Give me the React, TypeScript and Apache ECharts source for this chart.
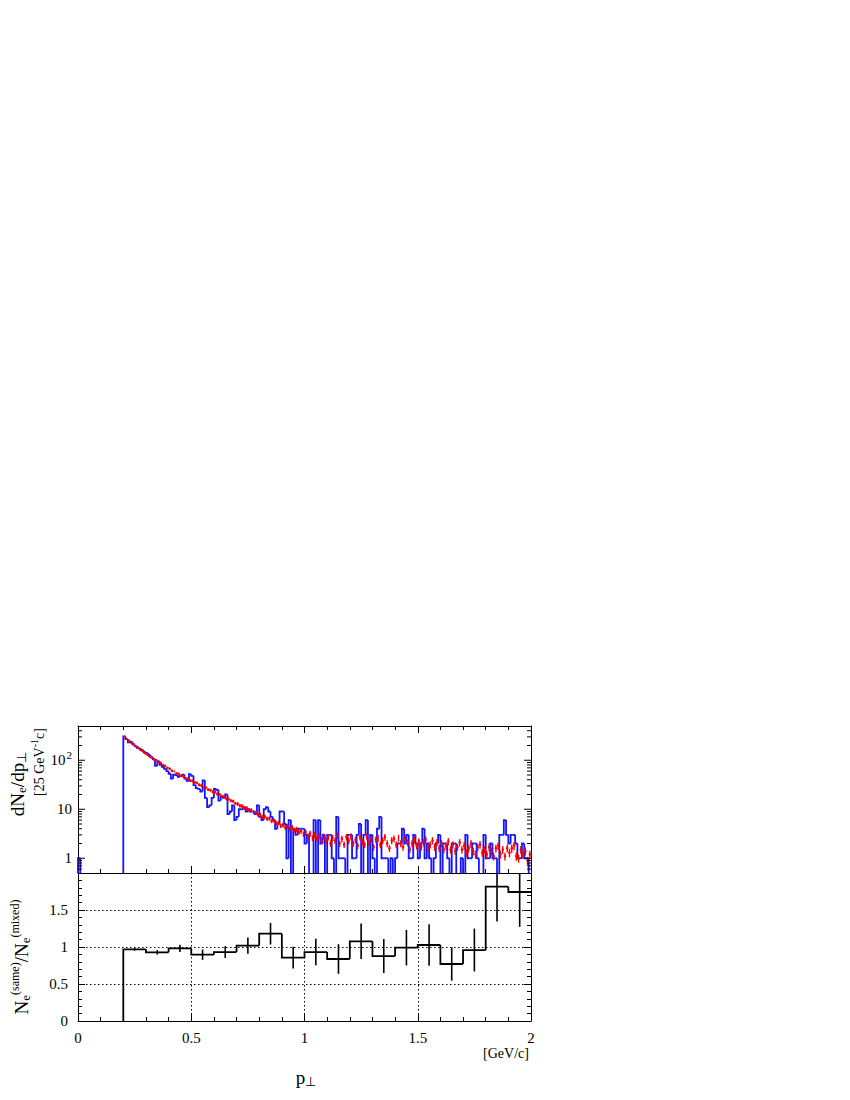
import React, { useEffect, useRef } from "react";
import * as echarts from "echarts";

const FONT = "'Liberation Serif', 'Times New Roman', serif";

// ---------- data ----------
const BIN_W = 0.01;
const BLUE_START = 0.0;
// same-event counts per 0.01 GeV/c bin, from p = 0.00
const blueLead = [1, 0, 0, 0, 0, 0, 0, 0, 0, 0, 0, 0, 0, 0, 0, 0, 0, 0, 0, 0];
const blueMain = [
  305, 270, 232, 240, 210, 195, 180, 172, 160, 147,
  140, 128, 115, 105, 77, 96, 81, 73, 67, 60,
  53, 42, 51, 50, 46, 48, 51, 42, 38, 52,
  48, 31, 27, 26, 23, 39, 17, 11, 12, 17,
  26, 25, 15, 18, 17, 20, 8, 9, 12, 6,
  7, 10, 10, 11, 9, 10, 9, 9, 8, 12,
  7, 6, 10, 11, 9, 7, 6, 4, 5, 9,
  9, 5, 1, 6, 0, 4, 3, 4, 4, 4,
  2, 3, 0, 0, 6, 0, 6, 2, 3, 0,
  3, 3, 1, 0, 7, 1, 1, 1, 0, 3,
  3, 1, 1, 3, 5, 0, 3, 6, 0, 3,
  1, 0, 4, 7, 1, 1, 1, 0, 1, 0,
  1, 2, 2, 4, 2, 3, 1, 1, 3, 2,
  1, 2, 4, 1, 2, 1, 0, 1, 2, 3,
  0, 2, 2, 1, 0, 2, 2, 0, 0, 1,
  0, 3, 1, 1, 2, 2, 1, 0, 0, 3,
  1, 1, 2, 1, 1, 0, 3, 3, 6, 3,
  2, 3, 3, 2, 1, 1, 2, 1, 1, 0,
];
const blueCounts = [...blueLead, ...blueMain];

// mixed-event distribution per 0.01 bin, from p = 0.20
const RED_START = 0.2;
const redValues = [
  296, 270, 252, 228, 214, 193, 182, 164, 155, 139,
  132, 121, 116, 104, 101, 92, 88, 80, 77, 70,
  67, 61, 59, 54, 53, 48, 47, 43, 42, 38.5,
  38, 35.5, 34.5, 31.5, 30.5, 28, 27.5, 25, 24.5, 22.5,
  22.5, 20.5, 20, 18.5, 18, 16.5, 16.2, 15, 14.6, 13.2,
  12.8, 11.8, 11.6, 10.6, 10.6, 9.6, 9.6, 8.7, 8.6, 7.7,
  7.7, 7.0, 7.1, 6.4, 6.5, 5.8, 5.9, 5.2, 5.3, 4.6,
  4.8, 4.3, 4.5, 4.0, 4.3, 3.7, 3.9, 3.4, 3.6, 3.1,
  3.4, 2.8, 3.2, 2.6, 3.0, 2.5, 2.9, 2.3, 2.8, 2.2,
  2.7, 2.0, 2.6, 2.3, 2.9, 2.0, 2.5, 1.9, 2.7, 2.3,
  2.8, 2.0, 2.4, 1.8, 2.7, 2.2, 1.9, 2.8, 2.1, 2.5,
  1.7, 2.4, 2.6, 1.9, 2.3, 2.7, 2.0, 1.6, 2.3, 2.5,
  1.9, 2.6, 2.0, 1.7, 2.5, 2.1, 1.5, 2.0, 2.4, 1.8,
  2.2, 1.7, 2.1, 2.4, 1.6, 1.9, 2.3, 1.7, 2.1, 1.6,
  2.0, 1.5, 1.8, 2.2, 1.5, 1.9, 1.4, 1.7, 2.1, 1.5,
  1.8, 1.3, 1.6, 2.0, 1.4, 1.2, 1.7, 1.9, 1.3, 1.5,
  1.2, 1.7, 1.4, 1.1, 1.6, 1.8, 1.2, 1.5, 1.1, 1.6,
  1.3, 1.6, 1.8, 1.1, 1.0, 1.5, 1.2, 1.4, 0.9, 1.2,
];
// relative error of the mixed points, per 0.1 GeV/c interval from 0.2
const redRelErr = [0.03, 0.04, 0.05, 0.06, 0.07, 0.09, 0.1, 0.12, 0.14, 0.15, 0.15, 0.16, 0.16, 0.17, 0.17, 0.18, 0.18, 0.19];

// ratio same/mixed per 0.1 GeV/c bin, from 0.2
const RATIO_START = 0.2;
const RATIO_W = 0.1;
const ratioValues = [0.969, 0.928, 0.982, 0.896, 0.932, 1.018, 1.18, 0.856, 0.932, 0.838, 1.077, 0.878, 0.991, 1.027, 0.77, 0.959, 1.815, 1.743];
const ratioErrors = [0.02, 0.03, 0.05, 0.07, 0.08, 0.11, 0.146, 0.146, 0.18, 0.2, 0.24, 0.23, 0.24, 0.28, 0.225, 0.29, 0.47, 0.47];

// axis settings
const X_MIN = 0;
const X_MAX = 2;
const LOG_MIN = 0.5;
const LOG_MAX = 500;
const logMajorTicks = [1, 10, 100];
const logMinorTicks = [0.6, 0.7, 0.8, 0.9, 2, 3, 4, 5, 6, 7, 8, 9, 20, 30, 40, 50, 60, 70, 80, 90, 200, 300, 400];
const ratioTickLabels = ["0", "0.5", "1", "1.5"];

export default function App() {
  const ref = useRef<HTMLDivElement>(null);

  useEffect(() => {
    if (!ref.current) return;
    const chart = echarts.init(ref.current, undefined, { renderer: "svg" });

    const blueData = blueCounts.map((v, i) => [
      BLUE_START + i * BIN_W,
      BLUE_START + (i + 1) * BIN_W,
      v,
      i > 0 ? blueCounts[i - 1] : 0,
    ]);
    const redData = redValues.map((v, i) => [
      RED_START + (i + 0.5) * BIN_W,
      v,
      v * redRelErr[Math.floor(i / 10)],
    ]);
    const ratioData = ratioValues.map((v, i) => [
      RATIO_START + i * RATIO_W,
      RATIO_START + (i + 1) * RATIO_W,
      v,
      i > 0 ? ratioValues[i - 1] : 0,
      ratioErrors[i],
    ]);
    const tickData = [
      ...logMajorTicks.map((v) => [0, v, 1]),
      ...logMinorTicks.map((v) => [0, v, 0]),
    ];

    const black = "#000";
    const tickStyle = { color: black, width: 1 };
    const dotted = { color: black, width: 1, type: [1.5, 2.5] };

    const xBase = (grid: number, pos: string) => ({
      type: "value",
      gridIndex: grid,
      min: X_MIN,
      max: X_MAX,
      interval: 0.5,
      position: pos,
      axisLine: { show: true, onZero: false, lineStyle: { color: black, width: 1 } },
      axisTick: { show: true, inside: true, length: 7, lineStyle: tickStyle },
      minorTick: { show: true, splitNumber: 5, length: 4, lineStyle: tickStyle },
      axisLabel: { show: false },
      splitLine: { show: false },
    });

    const yRatio = (pos: string, labels: boolean) => ({
      type: "value",
      gridIndex: 1,
      min: 0,
      max: 2,
      interval: 0.5,
      position: pos,
      axisLine: { show: true, onZero: false, lineStyle: { color: black, width: 1 } },
      axisTick: { show: true, inside: true, length: 7, lineStyle: tickStyle },
      minorTick: { show: true, splitNumber: 5, length: 4, lineStyle: tickStyle },
      splitLine: { show: labels, lineStyle: dotted },
      axisLabel: labels
        ? {
            show: true,
            margin: 10,
            fontSize: 15,
            fontFamily: FONT,
            color: black,
            formatter: (v: number) => {
              const idx = Math.round(v / 0.5);
              return idx < ratioTickLabels.length ? ratioTickLabels[idx] : "";
            },
          }
        : { show: false },
    });

    const yLog = (pos: string, labels: boolean) => ({
      type: "log",
      logBase: 10,
      gridIndex: 0,
      min: LOG_MIN,
      max: LOG_MAX,
      position: pos,
      axisLine: { show: true, onZero: false, lineStyle: { color: black, width: 1 } },
      axisTick: { show: false },
      minorTick: { show: false },
      splitLine: { show: false },
      axisLabel: labels
        ? {
            show: true,
            margin: 6,
            fontSize: 15,
            fontFamily: FONT,
            color: black,
            showMinLabel: true,
            showMaxLabel: true,
            hideOverlap: false,
            rich: { sup: { fontSize: 11, fontFamily: FONT, color: black, padding: [0, 0, 10, 1] } },
            formatter: (v: number) => {
              const l = Math.log10(v);
              if (Math.abs(l - Math.round(l)) > 1e-6) return "";
              const e = Math.round(l);
              if (e === 0) return "1";
              if (e === 1) return "10";
              return "10{sup|" + e + "}";
            },
          }
        : { show: false },
    });

    const rich = {
      n: { fontSize: 19, fontFamily: FONT, fill: black },
      s: { fontSize: 13, fontFamily: FONT, fill: black, padding: [8, 0, 0, 0] },
      m: { fontSize: 14, fontFamily: FONT, fill: black },
      u: { fontSize: 10, fontFamily: FONT, fill: black, padding: [0, 0, 9, 0] },
      p: { fontSize: 12, fontFamily: FONT, fill: black, padding: [0, 0, 12, 0] },
    };

    const option = {
      animation: false,
      grid: [
        { left: 70, top: 718, width: 453, height: 147 },
        { left: 70, top: 865, width: 453, height: 148 },
      ],
      xAxis: [
        xBase(0, "bottom"),
        xBase(0, "top"),
        {
          ...xBase(1, "bottom"),
          axisLabel: { show: true, margin: 9, fontSize: 15, fontFamily: FONT, color: black, showMinLabel: true, showMaxLabel: true },
          splitLine: { show: true, lineStyle: dotted },
        },
      ],
      yAxis: [yLog("left", true), yLog("right", false), yRatio("left", true), yRatio("right", false)],
      series: [
        {
          type: "custom",
          name: "same",
          xAxisIndex: 0,
          yAxisIndex: 0,
          encode: { x: 0, y: 2 },
          data: blueData,
          renderItem: (params: any, api: any) => {
            const x0 = api.value(0);
            const x1 = api.value(1);
            const v = api.value(2);
            const vp = api.value(3);
            if (v <= 0 && vp <= 0) return null;
            const yBot = api.coord([x0, LOG_MIN])[1];
            const yTop = api.coord([x0, LOG_MAX])[1];
            const yOf = (val: number) =>
              val > 0 ? Math.max(yTop, Math.min(yBot, api.coord([x0, val])[1])) : yBot;
            const px0 = api.coord([x0, 1])[0];
            const px1 = api.coord([x1, 1])[0];
            const pts =
              v > 0
                ? [
                    [px0, yOf(vp)],
                    [px0, yOf(v)],
                    [px1, yOf(v)],
                  ]
                : [
                    [px0, yOf(vp)],
                    [px0, yBot],
                  ];
            return {
              type: "polyline",
              shape: { points: pts },
              style: { stroke: "#1414ff", lineWidth: 1.8, fill: null, lineJoin: "miter" },
            };
          },
          z: 3,
        },
        {
          type: "custom",
          name: "mixed",
          xAxisIndex: 0,
          yAxisIndex: 0,
          encode: { x: 0, y: 1 },
          data: redData,
          renderItem: (params: any, api: any) => {
            const xc = api.value(0);
            const v = api.value(1);
            const e = api.value(2);
            const c = api.coord([xc, v]);
            const lo = api.coord([xc, Math.max(LOG_MIN, v - e)]);
            const hi = api.coord([xc, v + e]);
            return {
              type: "group",
              children: [
                {
                  type: "line",
                  shape: { x1: c[0], y1: lo[1], x2: c[0], y2: hi[1] },
                  style: { stroke: "#ff0000", lineWidth: 1.4 },
                },
                {
                  type: "circle",
                  shape: { cx: c[0], cy: c[1], r: 1.3 },
                  style: { fill: "#ff0000" },
                },
              ],
            };
          },
          z: 4,
        },
        {
          type: "custom",
          name: "logticks",
          xAxisIndex: 0,
          yAxisIndex: 0,
          encode: { x: 0, y: 1 },
          data: tickData,
          renderItem: (params: any, api: any) => {
            const v = api.value(1);
            const major = api.value(2) > 0;
            const pl = api.coord([X_MIN, v]);
            const pr = api.coord([X_MAX, v]);
            const len = major ? 7 : 4;
            return {
              type: "group",
              children: [
                { type: "line", shape: { x1: pl[0], y1: pl[1], x2: pl[0] + len, y2: pl[1] }, style: { stroke: black, lineWidth: 1 } },
                { type: "line", shape: { x1: pr[0] - len, y1: pr[1], x2: pr[0], y2: pr[1] }, style: { stroke: black, lineWidth: 1 } },
              ],
            };
          },
          z: 5,
        },
        {
          type: "custom",
          name: "ratio",
          xAxisIndex: 2,
          yAxisIndex: 2,
          encode: { x: 0, y: 2 },
          data: ratioData,
          renderItem: (params: any, api: any) => {
            const x0 = api.value(0);
            const x1 = api.value(1);
            const v = api.value(2);
            const vp = api.value(3);
            const e = api.value(4);
            const yTop = api.coord([x0, 2])[1];
            const yBot = api.coord([x0, 0])[1];
            const yOf = (val: number) => Math.max(yTop, Math.min(yBot, api.coord([x0, val])[1]));
            const px0 = api.coord([x0, 0])[0];
            const px1 = api.coord([x1, 0])[0];
            const pc = api.coord([(x0 + x1) / 2, 0])[0];
            return {
              type: "group",
              children: [
                {
                  type: "polyline",
                  shape: {
                    points: [
                      [px0, yOf(vp)],
                      [px0, yOf(v)],
                      [px1, yOf(v)],
                    ],
                  },
                  style: { stroke: black, lineWidth: 1.8, fill: null },
                },
                {
                  type: "line",
                  shape: { x1: pc, y1: yOf(v - e), x2: pc, y2: yOf(v + e) },
                  style: { stroke: black, lineWidth: 1.6 },
                },
              ],
            };
          },
          z: 3,
        },
      ],
      graphic: [
        {
          type: "text",
          x: 9,
          y: 776,
          rotation: Math.PI / 2,
          style: { text: "{n|dN}{s|e}{n|/dp}{s|⊥}", rich, align: "center", verticalAlign: "middle", fill: black },
        },
        {
          type: "text",
          x: 31,
          y: 754,
          rotation: Math.PI / 2,
          style: { text: "{m|[25 GeV}{u|-1}{m|c]}", rich, align: "center", verticalAlign: "middle", fill: black },
        },
        {
          type: "text",
          x: 13,
          y: 949,
          rotation: Math.PI / 2,
          style: { text: "{n|N}{s|e}{p|(same)}{n|/N}{s|e}{p|(mixed)}", rich, align: "center", verticalAlign: "middle", fill: black },
        },
        {
          type: "text",
          x: 298,
          y: 1069,
          style: { text: "{n|p}{s|⊥}", rich, align: "center", verticalAlign: "middle", fill: black },
        },
        {
          type: "text",
          x: 498,
          y: 1045,
          style: { text: "[GeV/c]", fontSize: 14, fontFamily: FONT, fill: black, align: "center", verticalAlign: "middle" },
        },
      ],
    };

    chart.setOption(option as any);
    return () => chart.dispose();
  }, []);

  return <div ref={ref} style={{ width: 834, height: 1084 }} />;
}
